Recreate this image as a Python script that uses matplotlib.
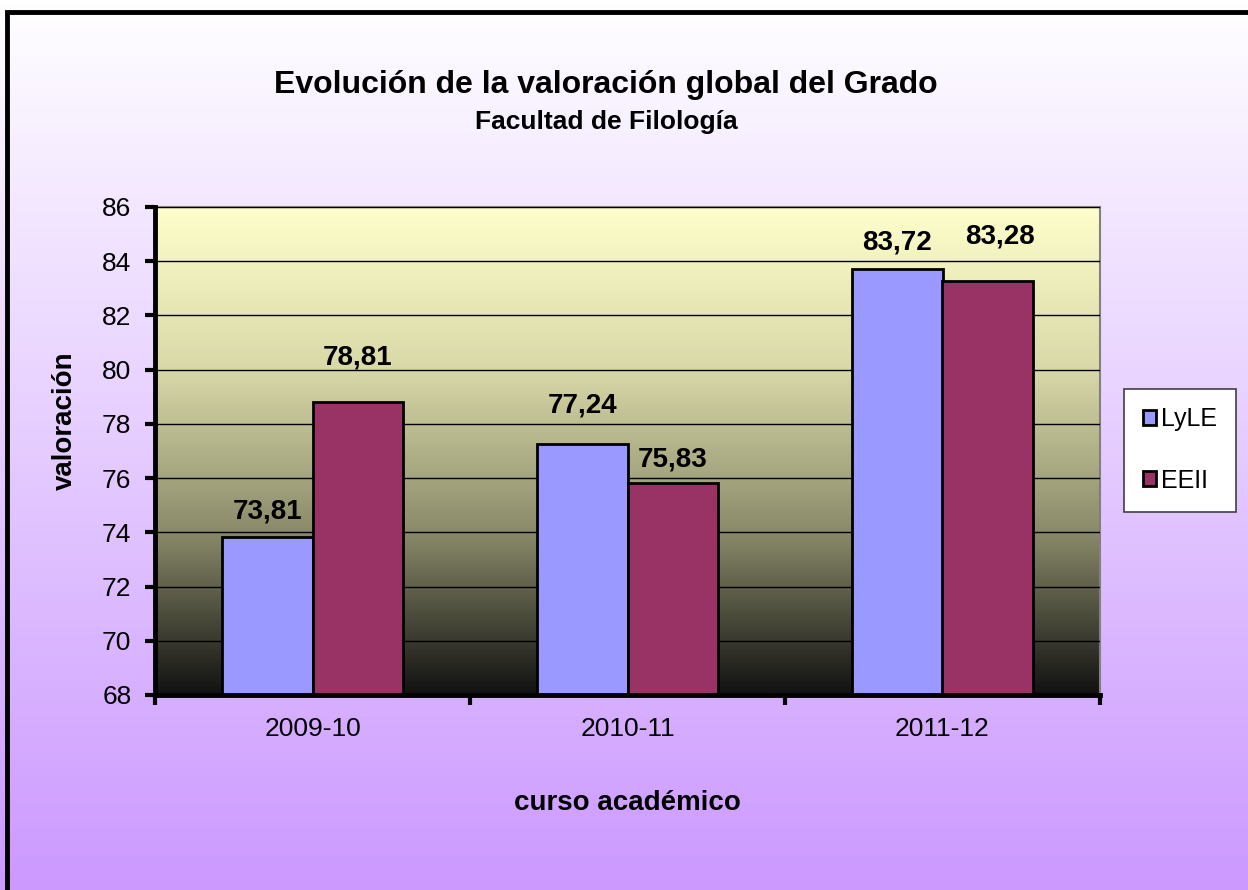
import numpy as np
import matplotlib.pyplot as plt
from matplotlib.colors import LinearSegmentedColormap
from matplotlib.patches import Rectangle

plt.rcParams['font.family'] = ['Liberation Sans', 'DejaVu Sans']

# --- data ---
cursos = ["2009-10", "2010-11", "2011-12"]
series = ["LyLE", "EEII"]
lyle = [73.81, 77.24, 83.72]
eeii = [78.81, 75.83, 83.28]
yticks = [68, 70, 72, 74, 76, 78, 80, 82, 84, 86]

# label offsets (x, y) in points, the original labels were placed by hand
off_lyle = [(0, 19), (0, 28), (0, 19)]
off_eeii = [(0, 32), (0, 17), (9, 32)]

fig = plt.figure(figsize=(12.48, 8.9), dpi=100)

# figure background gradient: white -> lavender
bg = fig.add_axes([0, 0, 1, 1], zorder=-10)
bg_cmap = LinearSegmentedColormap.from_list("bg", ["#ffffff", "#cc99ff"])
bg.imshow(np.linspace(0, 1, 256).reshape(-1, 1), aspect="auto", cmap=bg_cmap,
          extent=[0, 1, 0, 1], origin="upper")
bg.add_patch(Rectangle((7 / 1248, -0.05), 1.2, 1 - 12 / 890 + 0.05, fill=False,
                       edgecolor="black", linewidth=3.5, transform=bg.transAxes))
bg.set_xlim(0, 1)
bg.set_ylim(0, 1)
bg.axis("off")

ax = fig.add_axes([155 / 1248, 1 - 695 / 890, 945 / 1248, 488 / 890])

# plot area gradient: pale yellow -> black
pa_cmap = LinearSegmentedColormap.from_list("pa", ["#ffffcc", "#d8d8a8", "#8a8a6a", "#111111"])
ax.imshow(np.linspace(0, 1, 256).reshape(-1, 1), aspect="auto", cmap=pa_cmap,
          extent=[-0.5, 2.5, 68, 86], origin="upper", zorder=0)

x = np.arange(len(cursos))
w = 0.2875
b1 = ax.bar(x - w / 2, [v - 68 for v in lyle], w, bottom=68, color="#9999ff",
            edgecolor="black", linewidth=2, label=series[0], zorder=3)
b2 = ax.bar(x + w / 2, [v - 68 for v in eeii], w, bottom=68, color="#993366",
            edgecolor="black", linewidth=2, label=series[1], zorder=3)

for bars, vals, offs in [(b1, lyle, off_lyle), (b2, eeii, off_eeii)]:
    for r, v, o in zip(bars, vals, offs):
        ax.annotate(f"{v:.2f}".replace(".", ","), (r.get_x() + r.get_width() / 2, v),
                    xytext=o, textcoords="offset points", ha="center", va="center",
                    fontsize=20, fontweight="bold")

ax.set_xlim(-0.5, 2.5)
ax.set_ylim(68, 86)
ax.set_yticks(yticks)
ax.tick_params(axis="y", labelsize=19, length=7, width=3, direction="out", pad=10)
ax.yaxis.grid(True, color="black", linewidth=1)
ax.set_axisbelow(False)
for gl in ax.get_ygridlines():
    gl.set_zorder(1)

ax.set_xticks([-0.5, 0.5, 1.5, 2.5])
ax.set_xticklabels([])
ax.set_xticks(x, minor=True)
ax.set_xticklabels(cursos, minor=True)
ax.tick_params(axis="x", which="major", length=7, width=3, direction="out")
ax.tick_params(axis="x", which="minor", length=0, labelsize=19, pad=16)

for s in ["left", "bottom"]:
    ax.spines[s].set_linewidth(3.5)
    ax.spines[s].set_color("black")
    ax.spines[s].set_zorder(5)
for s in ["top", "right"]:
    ax.spines[s].set_linewidth(1.5)
    ax.spines[s].set_color("#808080")

fig.text(65 / 1248, 1 - 421 / 890, "valoración", ha="center", va="center",
         rotation=90, fontsize=20, fontweight="bold")
fig.text(627 / 1248, 1 - 803 / 890, "curso académico", ha="center", va="center",
         fontsize=20, fontweight="bold")
fig.text(606 / 1248, 1 - 85 / 890, "Evolución de la valoración global del Grado",
         ha="center", va="center", fontsize=23, fontweight="bold")
fig.text(606 / 1248, 1 - 122 / 890, "Facultad de Filología",
         ha="center", va="center", fontsize=19, fontweight="bold")

leg = fig.legend(handles=[b1, b2], labels=series, loc="center",
                 bbox_to_anchor=(1180 / 1248, 1 - 450 / 890), fontsize=18,
                 frameon=True, fancybox=False, edgecolor="#404040", framealpha=1,
                 handlelength=0.55, handleheight=0.55, handletextpad=0.2,
                 labelspacing=1.5, borderpad=0.75, borderaxespad=0)
leg.get_frame().set_linewidth(1.2)

fig.savefig("out.png", dpi=100)
